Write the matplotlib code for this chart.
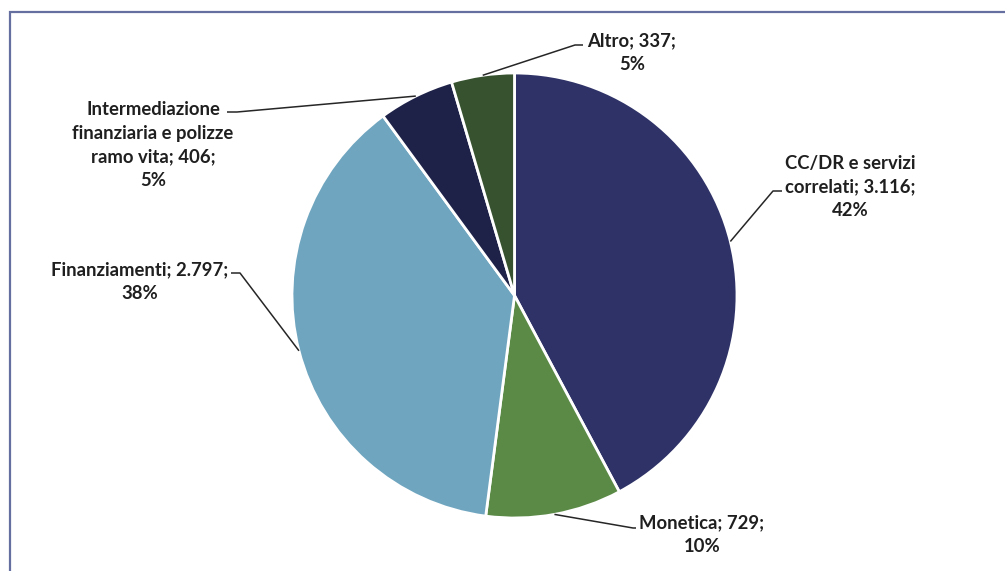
import numpy as np
import matplotlib
matplotlib.use('Agg')
from matplotlib import pyplot as plt
from matplotlib.patches import Rectangle

# ── Data ──────────────────────────────────────────────────────────────────────
categories = ['CC/DR e servizi correlati', 'Monetica', 'Finanziamenti',
              'Intermediazione finanziaria e polizze ramo vita', 'Altro']
values     = [3116, 729, 2797, 406, 337]
labels     = ['CC/DR e servizi\ncorrelati; 3.116;\n42%',
              'Monetica; 729;\n10%',
              'Finanziamenti; 2.797;\n38%',
              'Intermediazione\nfinanziaria e polizze\nramo vita; 406;\n5%',
              'Altro; 337;\n5%']
colors     = ['#2e3267', '#5b8a47', '#6fa5bf', '#1e2248', '#36522e']

# label block centre, text alignment, leader elbow (pixel coords, y down)
label_pos  = [(850, 187, 'center'), (702, 535, 'center'), (228, 282, 'right'),
              (153, 145, 'center'), (632, 53, 'center')]
elbows     = [((773, 191), (782, 191)), ((633, 528), (636, 528)),
              ((240, 273), (231, 273)), ((237, 112), (227, 112)),
              ((575, 45), (583, 45))]

W, H = 1005, 571
CX, CY, R = 514.5, 295.5, 222.5

fig = plt.figure(figsize=(W / 100, H / 100), dpi=100)
fig.patch.set_facecolor('white')
ax = fig.add_axes([0, 0, 1, 1])

wedges, _ = ax.pie(values, colors=colors, startangle=90, counterclock=False,
                   radius=R, center=(CX, H - CY),
                   wedgeprops=dict(edgecolor='white', linewidth=2))
ax.set_xlim(0, W)
ax.set_ylim(0, H)
ax.set_aspect('equal')
ax.axis('off')

font = dict(family=['Lato', 'DejaVu Sans'], weight='bold', size=13.3, color='#1f1f1f')

for w, lab, (tx, ty, ha), (e1, e2) in zip(wedges, labels, label_pos, elbows):
    mid = np.radians((w.theta1 + w.theta2) / 2)
    ax_pt = (CX + R * np.cos(mid), (H - CY) + R * np.sin(mid))
    xs = [ax_pt[0], e1[0], e2[0]]
    ys = [ax_pt[1], H - e1[1], H - e2[1]]
    ax.plot(xs, ys, color='#262626', linewidth=1.1, solid_capstyle='butt')
    ax.text(tx, H - ty, lab, ha=ha, va='center', multialignment='center',
            linespacing=1.49, **font)

# chart frame (right and bottom edges run off the canvas)
fig.patches.append(Rectangle((9.5 / W, -0.05), 1.1, (H - 12.5) / H + 0.05,
                             transform=fig.transFigure, fill=False,
                             edgecolor='#6670a0', linewidth=1.6))

plt.savefig('out.png', dpi=100)
